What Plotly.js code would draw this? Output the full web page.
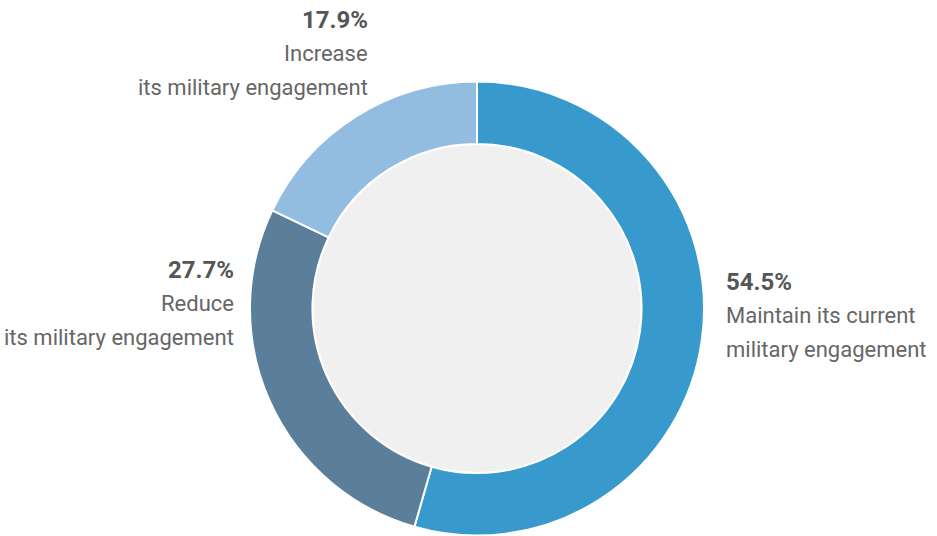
<!DOCTYPE html>
<html><head><meta charset="utf-8">
<script src="https://cdn.plot.ly/plotly-3.0.1.min.js"></script>
<style>body{margin:0;background:#fff}#c{width:937px;height:536px}</style>
</head><body><div id="c"></div>
<script>
const categories = ["Maintain its current military engagement", "Reduce its military engagement", "Increase its military engagement"];
const values = [54.5, 27.7, 17.9];
const colors = ["#3799cc", "#5b7f9a", "#93bde0"];
const labelLines = [["Maintain its current", "military engagement"], ["Reduce", "its military engagement"], ["Increase", "its military engagement"]];

const W = 937, H = 536, cx = 477, cy = 308.5, R = 227, hole = 0.725;
const fx = v => v / W, fy = v => (H - v) / H;

const ring = {
  type: "pie", values: values, labels: categories, sort: false, direction: "clockwise", rotation: 0,
  hole: hole, textinfo: "none", hoverinfo: "label+value",
  marker: {colors: colors, line: {color: "#ffffff", width: 2}},
  domain: {x: [fx(cx - R), fx(cx + R)], y: [fy(cy + R), fy(cy - R)]},
  showlegend: false
};
const r2 = R * hole;
const centre = {
  type: "pie", values: [1], labels: ["centre"], sort: false, textinfo: "none", hoverinfo: "skip",
  marker: {colors: ["#f0f0f0"], line: {color: "#ffffff", width: 2}},
  domain: {x: [fx(cx - r2), fx(cx + r2)], y: [fy(cy + r2), fy(cy - r2)]},
  showlegend: false
};

const pos = [
  {x: 724, y: 282, anchor: "left"},
  {x: 236, y: 270, anchor: "right"},
  {x: 370, y: 20, anchor: "right"}
];
const lineGap = 33.5;
const annotations = [];
values.forEach((v, i) => {
  const p = pos[i];
  annotations.push({
    xref: "paper", yref: "paper", x: fx(p.x), y: fy(p.y), xanchor: p.anchor, yanchor: "middle",
    showarrow: false, text: "<b>" + v.toFixed(1) + "%</b>",
    font: {family: "Roboto, sans-serif", size: 24, color: "#555555"}
  });
  labelLines[i].forEach((t, j) => {
    annotations.push({
      xref: "paper", yref: "paper", x: fx(p.x), y: fy(p.y + lineGap * (j + 1)), xanchor: p.anchor, yanchor: "middle",
      showarrow: false, text: t,
      font: {family: "Roboto, sans-serif", size: 22, color: "#666666"}
    });
  });
});

Plotly.newPlot("c", [centre, ring], {
  width: W, height: H, margin: {l: 0, r: 0, t: 0, b: 0},
  paper_bgcolor: "#ffffff", plot_bgcolor: "#ffffff",
  annotations: annotations
}, {displayModeBar: false, staticPlot: true});
</script></body></html>
